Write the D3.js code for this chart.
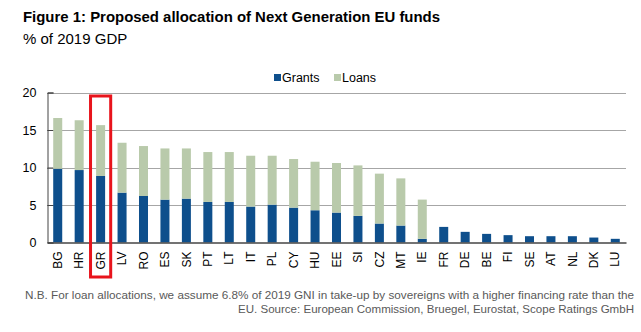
<!DOCTYPE html>
<html><head><meta charset="utf-8">
<script src="https://cdn.jsdelivr.net/npm/d3@7"></script>
<style>body{margin:0;background:#fff}svg{display:block;font-family:"Liberation Sans",Arial,sans-serif}</style>
</head><body>
<svg id="c" width="641" height="332"></svg>
<script>
const categories = ["BG","HR","GR","LV","RO","ES","SK","PT","LT","IT","PL","CY","HU","EE","SI","CZ","MT","IE","FR","DE","BE","FI","SE","AT","NL","DK","LU"];
const grants = [9.84,9.66,8.87,6.65,6.2,5.72,5.85,5.41,5.41,4.79,5.05,4.65,4.3,3.99,3.55,2.53,2.26,0.49,2.08,1.42,1.15,0.98,0.84,0.84,0.84,0.66,0.49];
const totals = [16.6,16.3,15.65,13.3,12.86,12.54,12.54,12.06,12.06,11.57,11.57,11.13,10.77,10.6,10.28,9.18,8.55,5.72,2.08,1.42,1.15,0.98,0.84,0.84,0.84,0.66,0.49];
const loans = totals.map((t,i)=>Math.max(0, +(t-grants[i]).toFixed(2)));
const yTicks = [0,5,10,15,20];
const seriesNames = ["Grants","Loans"];
const colors = {Grants:"#0e4f8c", Loans:"#b9caab"};
const highlight = "GR";

const svg = d3.select("#c");
const m = {l:47, r:626, t:92.5, b:242.5};
const x = d3.scaleBand().domain(categories).range([m.l, m.r]).paddingInner(0.58).paddingOuter(0.29);
const y = d3.scaleLinear().domain([0,20]).range([m.b, m.t]);

svg.append("text").attr("x",23).attr("y",22).attr("font-size",15).attr("font-weight","bold").attr("fill","#000")
  .attr("textLength",417).attr("lengthAdjust","spacingAndGlyphs")
  .text("Figure 1: Proposed allocation of Next Generation EU funds");
svg.append("text").attr("x",23).attr("y",44).attr("font-size",15).attr("fill","#000").text("% of 2019 GDP");

// gridlines
svg.append("g").selectAll("line").data(yTicks.filter(d=>d>0)).join("line")
  .attr("x1",m.l).attr("x2",m.r).attr("y1",d=>Math.round(y(d))+0.5).attr("y2",d=>Math.round(y(d))+0.5)
  .attr("stroke","#a6a6a6").attr("stroke-width",1);

// y axis
const ya = svg.append("g").attr("transform",`translate(${m.l+0.5},0)`)
  .call(d3.axisLeft(y).tickValues(yTicks).tickSize(-6).tickPadding(11));
ya.select(".domain").attr("stroke","#444");
ya.selectAll(".tick line").attr("stroke","#444");
ya.selectAll("text").attr("font-size",12.5).attr("fill","#000").attr("font-family","Liberation Sans, Arial, sans-serif");

// bars
const stacked = d3.stack().keys(seriesNames)(categories.map((c,i)=>({cat:c, Grants:grants[i], Loans:loans[i]})));
svg.append("g").selectAll("g").data(stacked).join("g").attr("fill",d=>colors[d.key])
  .selectAll("rect").data(d=>d).join("rect")
  .attr("x",d=>x(d.data.cat)).attr("width",x.bandwidth())
  .attr("y",d=>y(d[1])).attr("height",d=>y(d[0])-y(d[1]));

// x axis
const xa = svg.append("g").attr("transform",`translate(0,${m.b})`).call(d3.axisBottom(x).tickSize(0).tickPadding(0));
xa.select(".domain").attr("stroke","#444").attr("stroke-width",1.5);
xa.selectAll("text").attr("font-size",12).attr("fill","#000").attr("font-family","Liberation Sans, Arial, sans-serif")
  .attr("transform","rotate(-90)").attr("text-anchor","end").attr("x",-9).attr("y",0).attr("dy","0.35em");

// highlight box
const hc = x(highlight) + x.bandwidth()/2;
svg.append("rect").attr("x",hc - x.step()*0.47).attr("y",96).attr("width",x.step()*0.94).attr("height",181)
  .attr("fill","none").attr("stroke","#e8141c").attr("stroke-width",3);

// legend
const lg = svg.append("g");
const legX = [274, 334];
seriesNames.forEach((s,i)=>{
  lg.append("rect").attr("x",legX[i]).attr("y",74).attr("width",7).attr("height",7).attr("fill",colors[s]);
  lg.append("text").attr("x",legX[i]+8).attr("y",81.5).attr("font-size",12.5).attr("fill","#000").text(s);
});

// footnote
svg.append("text").attr("x",634).attr("y",298.5).attr("text-anchor","end").attr("font-size",11).attr("fill","#595959")
  .attr("textLength",609).attr("lengthAdjust","spacingAndGlyphs")
  .text("N.B. For loan allocations, we assume 6.8% of 2019 GNI in take-up by sovereigns with a higher financing rate than the");
svg.append("text").attr("x",634).attr("y",312.5).attr("text-anchor","end").attr("font-size",11).attr("fill","#595959")
  .attr("textLength",396).attr("lengthAdjust","spacingAndGlyphs")
  .text("EU. Source: European Commission, Bruegel, Eurostat, Scope Ratings GmbH");
</script>
</body></html>
